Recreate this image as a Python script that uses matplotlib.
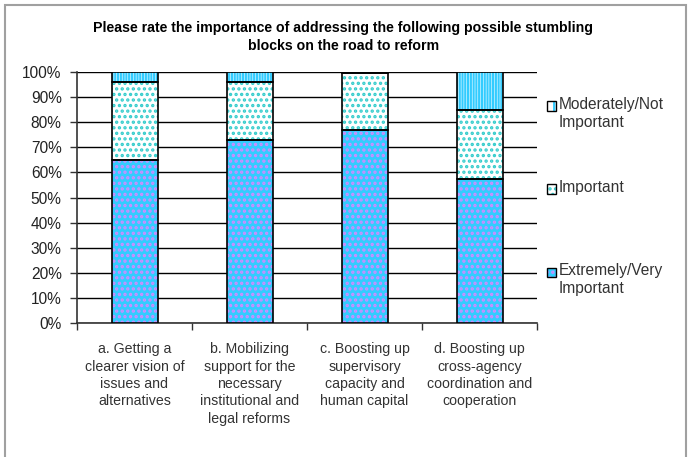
import matplotlib.pyplot as plt
from matplotlib.patches import Rectangle

plt.rcParams['font.family'] = ['Liberation Sans', 'DejaVu Sans']
plt.rcParams['hatch.linewidth'] = 1.6

categories = ['a. Getting a\nclearer vision of\nissues and\nalternatives',
              'b. Mobilizing\nsupport for the\nnecessary\ninstitutional and\nlegal reforms',
              'c. Boosting up\nsupervisory\ncapacity and\nhuman capital',
              'd. Boosting up\ncross-agency\ncoordination and\ncooperation']
extremely = [65, 73, 77, 57.5]
important = [31, 23, 22.5, 27.5]
moderately = [4, 4, 0.5, 15]
series_names = ['Extremely/Very\nImportant', 'Important', 'Moderately/Not\nImportant']
yticks = [0, 10, 20, 30, 40, 50, 60, 70, 80, 90, 100]

# face colour, hatch, hatch colour for each series
styles = [('#33CCFF', '...', '#D08CFF'),
          ('white', '...', '#33CCCC'),
          ('white', '||||||', '#33CCFF')]

W, H = 691, 457
fig = plt.figure(figsize=(W / 100, H / 100), dpi=100)
fig.patches.append(Rectangle((5 / W, -0.05), 681 / W, 1.05 - 5 / H, transform=fig.transFigure,
                             fill=False, edgecolor='#a0a0a0', lw=1.5))
ax = fig.add_axes([77 / W, 1 - 323 / H, 460 / W, 251 / H])

x = range(len(categories))
bottom = [0] * len(categories)
for vals, (fc, hatch, hc) in zip([extremely, important, moderately], styles):
    ax.bar(x, vals, 0.4, bottom=bottom, color=fc, hatch=hatch, edgecolor=hc, lw=0, zorder=3)
    ax.bar(x, vals, 0.4, bottom=bottom, fill=False, edgecolor='black', lw=1.2, zorder=4)
    bottom = [b + v for b, v in zip(bottom, vals)]

ax.set_xlim(-0.5, 3.5)
ax.set_ylim(0, 100)
ax.set_yticks(yticks)
ax.set_yticklabels([f'{t}%' for t in yticks], fontsize=11.2, color='#222222')
ax.yaxis.grid(True, color='black', lw=1)
ax.set_axisbelow(True)
ax.set_xticks([-0.5, 0.5, 1.5, 2.5, 3.5])
ax.set_xticklabels([])
ax.set_xticks(list(x), minor=True)
ax.set_xticklabels(categories, minor=True, fontsize=10.2, color='#333333', linespacing=1.3)
ax.tick_params(axis='x', which='minor', length=0, pad=14)
ax.tick_params(axis='both', which='major', length=5, width=1, color='#333333')
ax.tick_params(axis='y', pad=6)
for s in ['top', 'right']:
    ax.spines[s].set_visible(False)
for s in ['left', 'bottom']:
    ax.spines[s].set_color('#333333')
    ax.spines[s].set_linewidth(1.2)

# legend keys, top entry first, each key beside the first line of its label
key_y = [106, 189, 272]
for name, (fc, hatch, hc), ky in zip(series_names[::-1], styles[::-1], key_y):
    rect = (547 / W, 1 - (ky + 4.5) / H)
    fig.patches.append(Rectangle(rect, 9 / W, 9 / H, transform=fig.transFigure,
                                 facecolor=fc, hatch=hatch.replace('||||||', '||'),
                                 edgecolor=hc, lw=0))
    fig.patches.append(Rectangle(rect, 9 / W, 9 / H, transform=fig.transFigure,
                                 fill=False, edgecolor='black', lw=1))
    fig.text(559 / W, 1 - (ky - 9) / H, name, ha='left', va='top', fontsize=11.2,
             color='#333333', linespacing=1.25)

fig.text(0.497, 1 - 37 / H,
         'Please rate the importance of addressing the following possible stumbling\n'
         'blocks on the road to reform',
         ha='center', va='center', fontsize=10.2, fontweight='bold', linespacing=1.35)

fig.savefig('out.png', dpi=100)
